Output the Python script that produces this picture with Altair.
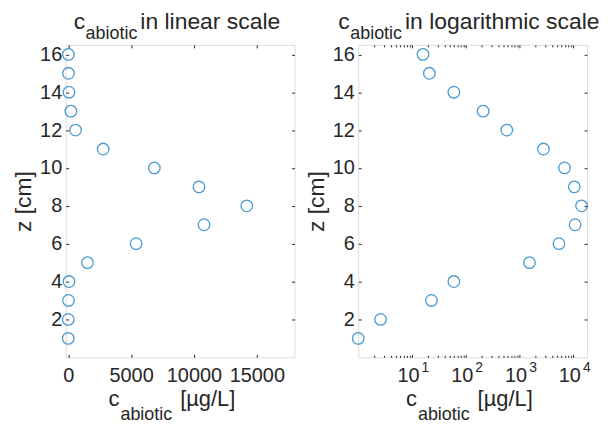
import json
import altair as alt
import pandas as pd

# ---- data ----
z_cm = [1, 2, 3, 4, 5, 6, 7, 8, 9, 10, 11, 12, 13, 14, 15, 16]
c_abiotic = [1.0, 2.6, 23, 60, 1530, 5400, 10800, 14200, 10400, 6850, 2780, 580, 210, 60, 21, 16]

z_ticks = [2, 4, 6, 8, 10, 12, 14, 16]
lin_ticks = [0, 5000, 10000, 15000]
log_ticks = [10, 100, 1000, 10000]
log_tick_base = "10"
log_tick_exp = ["1", "2", "3", "4"]
log_minor = [m * 10 ** k for k in range(0, 4) for m in range(2, 10)]

title_main = ["in linear scale", "in logarithmic scale"]
title_c = "c"
title_sub = "abiotic"
xtitle_unit = "[\u00b5g/L]"
ytitle = "z [cm]"

BLUE = "#0072BD"
TXT = "#262626"
FONT = "Liberation Sans"
W, H = 230, 314

df = pd.DataFrame({"c": c_abiotic, "z": z_cm})


def txt(s, x, y, size):
    return alt.Chart(pd.DataFrame({"t": [s]})).mark_text(
        align="left", baseline="alphabetic", fontSize=size, font=FONT, color=TXT
    ).encode(text="t:N", x=alt.value(x), y=alt.value(y))


def panel(xscale, xticks, label_expr, fmt, rest, c_x, cx_title, minor, exp_expr):
    ys = alt.Scale(domain=[0, 16.5], nice=False, zero=False)
    base = alt.Chart(df)
    xaxis_kw = dict(values=xticks, orient="bottom", offset=-3, tickSize=3, domain=False,
                    grid=False, labelPadding=8, title=None, tickColor=TXT,
                    labelFontSize=20, labelColor=TXT, labelFont=FONT)
    if label_expr:
        xaxis_kw["labelExpr"] = label_expr
        xaxis_kw["labelOffset"] = -4
    if fmt:
        xaxis_kw["format"] = fmt
    pts = base.mark_point(shape="circle", filled=False, size=135, strokeWidth=1.3, color=BLUE).encode(
        x=alt.X("c:Q", scale=xscale, axis=alt.Axis(**xaxis_kw)),
        y=alt.Y("z:Q", scale=ys, axis=alt.Axis(
            values=z_ticks, orient="left", offset=-3, tickSize=3, domain=False, grid=False,
            labelPadding=4, title=ytitle, titleFontSize=23, titleFont=FONT, titleColor=TXT,
            titleFontWeight="normal", titlePadding=4, tickColor=TXT,
            labelFontSize=20, labelColor=TXT, labelFont=FONT)),
    )
    mirror = base.mark_point(opacity=0).encode(
        x=alt.X("c:Q", scale=xscale, axis=alt.Axis(
            values=xticks, orient="top", offset=-3, tickSize=3, domain=False, grid=False,
            labels=False, title=None, tickColor=TXT)),
        y=alt.Y("z:Q", scale=ys, axis=alt.Axis(
            values=z_ticks, orient="right", offset=-3, tickSize=3, domain=False, grid=False,
            labels=False, title=None, tickColor=TXT)),
    )
    layers = [pts, mirror]
    if minor:
        for orient in ["bottom", "top"]:
            layers.append(base.mark_point(opacity=0).encode(
                x=alt.X("c:Q", scale=xscale, axis=alt.Axis(
                    values=minor, orient=orient, offset=-2, tickSize=2, domain=False,
                    grid=False, labels=False, title=None, tickColor=TXT)),
            ))
    if exp_expr:
        # exponent labels, raised and shifted right of the "10"
        layers.append(base.mark_point(opacity=0).encode(
            x=alt.X("c:Q", scale=xscale, axis=alt.Axis(
                values=xticks, orient="bottom", offset=0, ticks=False, domain=False,
                grid=False, labelExpr=exp_expr, labelOffset=13, labelPadding=3,
                title=None, labelFontSize=14, labelColor=TXT, labelFont=FONT)),
        ))
    layers += [
        txt(title_c, c_x, -16, 23),
        txt(title_sub, c_x + 12, -6, 18),
        txt(rest, c_x + 67, -16, 23),
        txt(title_c, cx_title, H + 49, 22),
        txt(title_sub, cx_title + 12, H + 63, 18),
        txt(xtitle_unit, cx_title + 72, H + 49, 22),
    ]
    return alt.layer(*layers).resolve_axis(x="independent", y="independent").properties(width=W, height=H)


lin_scale = alt.Scale(domain=[-200, 18000], nice=False, zero=False)
log_scale = alt.Scale(type="log", domain=[1, 18000], nice=False)
base_expr = "'" + log_tick_base + "'"
exp_expr = json.dumps(log_tick_exp) + "[round(log(datum.value)/LN10)-1]"

left = panel(lin_scale, lin_ticks, None, "d", title_main[0], 8, 43, None, None)
right = panel(log_scale, log_ticks, base_expr, None, title_main[1], -20, 48, log_minor, exp_expr)

chart = alt.hconcat(left, right, spacing=9).properties(
    padding={"left": 4, "top": 1, "right": 0, "bottom": 0}
).configure_view(stroke=TXT, strokeWidth=1).configure(background="white")

chart.save("out.html", embed_options={"renderer": "svg", "actions": False})
